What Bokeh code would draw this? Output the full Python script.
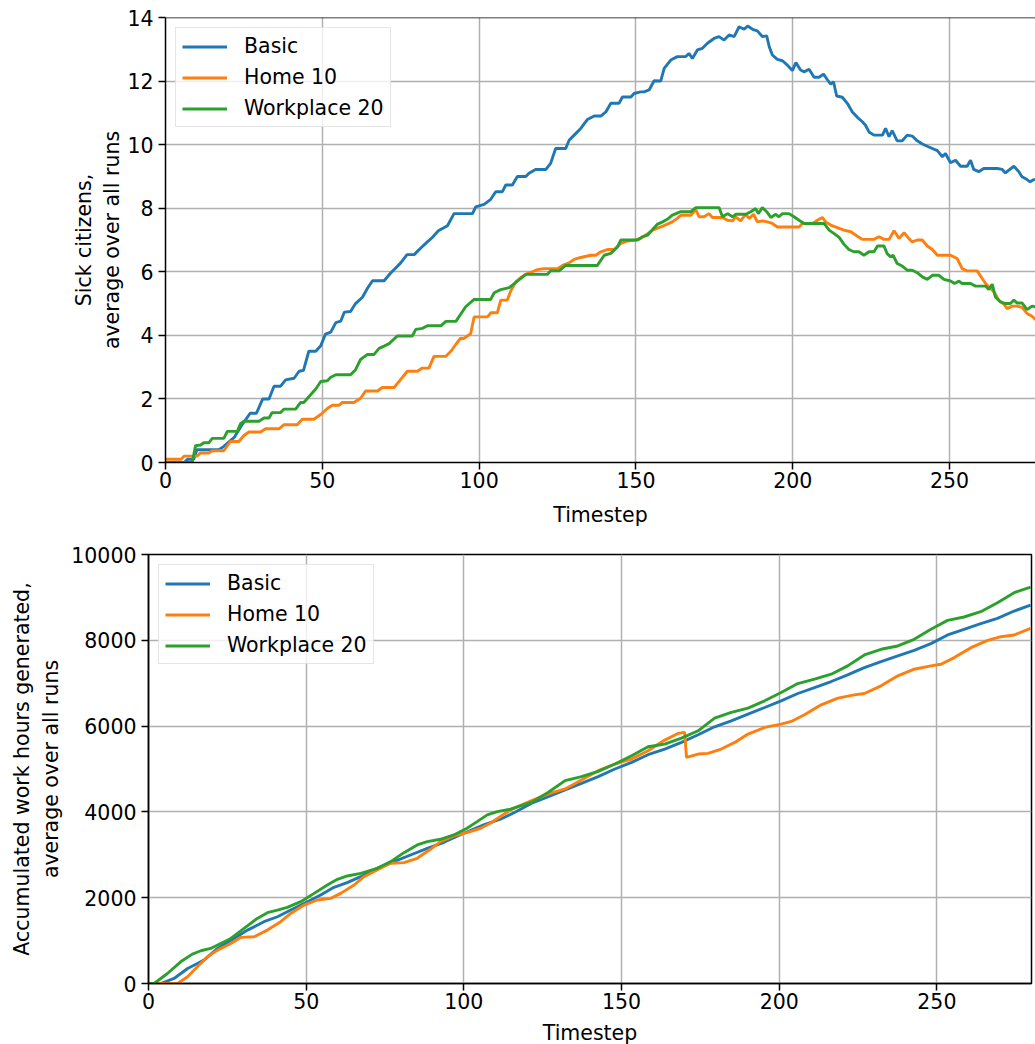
from bokeh.plotting import figure
from bokeh.models import Span, FixedTicker
from bokeh.embed import file_html
from bokeh.resources import INLINE

# ---------------- data: sick citizens (top) ----------------
basic_sick_t = [0, 6, 7, 9, 10, 17, 18.5, 22, 24.5, 27, 29, 31, 33, 34.6, 36.7, 38.3, 41, 42.6, 44, 45.7,
                47.9, 49.5, 51, 52.7, 54.3, 55.9, 57, 59, 60.6, 62.8, 64.4, 66, 69.7, 71.8, 73.4, 75, 77, 79.3,
                81.4, 83.5, 85, 87, 89.9, 92, 97.9, 98.9, 101.6, 103.7, 105.3, 107.4, 108.5, 110.6, 112.2,
                114.9, 115.9, 118, 121.3, 122.8, 124.4, 127.6, 128.7, 130.3, 132.4, 134.5, 136.7, 138.8, 140.4,
                142, 144.6, 145.7, 148.4, 149.4, 151.5, 152.6, 154.2, 155.8, 157.9, 159, 161.1, 163.2, 165.9,
                166.9, 168, 169.6, 171.2, 172.8, 174.9, 176.5, 178.1, 179.7, 181.3, 182.9, 184.5, 185.6, 187.2,
                188.7, 190.3, 191.7, 192.5, 193.5, 195.1, 196.7, 198.3, 199.9, 201, 202.5, 203.6, 205.2, 206.8,
                208.4, 209.8, 211, 212.1, 213, 214, 215.8, 217.4, 219, 220.6, 222.2, 223.2, 224.3, 225.9, 228.6,
                229.6, 230.7, 231.7, 233.3, 234.9, 236.5, 238.1, 239.7, 241.3, 242.9, 244.5, 246.1, 247.7,
                248.7, 250.3, 251.9, 253.5, 255.6, 256.7, 257.7, 259.3, 260.9, 265.2, 266.8, 267.8, 268.9,
                270.5, 272.1, 273.1, 274.7, 275.7, 276.9, 280]
basic_sick_v = [0, 0, 0.1, 0.1, 0.4, 0.4, 0.5, 0.8, 1.2, 1.55, 1.55, 2.0, 2.0, 2.4, 2.4, 2.6, 2.65, 2.87, 2.9, 3.5,
                3.5, 3.67, 4.04, 4.1, 4.4, 4.45, 4.73, 4.75, 5.0, 5.2, 5.48, 5.72, 5.72, 5.96, 6.12, 6.28, 6.54, 6.54,
                6.75, 6.94, 7.07, 7.29, 7.45, 7.83, 7.83, 8.04, 8.12, 8.28, 8.52, 8.52, 8.73, 8.73, 9.0,
                9.0, 9.1, 9.22, 9.22, 9.41, 9.88, 9.88, 10.14, 10.3, 10.51, 10.79, 10.9, 10.9, 11.03,
                11.3, 11.3, 11.5, 11.5, 11.61, 11.66, 11.66, 11.72, 12.01, 12.0, 12.4, 12.66, 12.77, 12.77,
                12.87, 12.71, 12.98, 13.03, 13.19, 13.34, 13.4, 13.29, 13.45, 13.4, 13.71, 13.63, 13.73, 13.63,
                13.58, 13.4, 13.42, 13.08, 12.82, 12.68, 12.64, 12.5, 12.33, 12.58, 12.35, 12.29, 12.37, 12.12,
                12.12, 12.22, 12.05, 11.9, 11.98, 11.53, 11.49, 11.3, 11.03, 10.86, 10.72, 10.61, 10.4, 10.3, 10.3,
                10.51, 10.25, 10.44, 10.12, 10.12, 10.3, 10.27, 10.12, 10.02, 9.95, 9.88, 9.81, 9.62,
                9.72, 9.43, 9.51, 9.32, 9.32, 9.51, 9.22, 9.15, 9.25, 9.25, 9.22, 9.11, 9.2,
                9.32, 9.15, 8.99, 8.9, 8.83, 8.9, 8.9]

home_sick_t = [0, 5, 5.9, 10, 11.2, 13.8, 14.9, 18.6, 20.7, 23.4, 25, 26.6, 30.3, 31.9, 36.2, 37.8, 42, 43.6, 47.3,
               49.5, 51.6, 53.2, 55.3, 56.4, 60.1, 62.2, 63.8, 67.6, 69.1, 72.9, 74.5, 77.1, 80.3, 81.9, 84, 85.6,
               89.4, 91, 92.6, 94.1, 95.1, 97.3, 98.4, 102.7, 103.7, 105.8, 106.9, 109, 110.1, 111.7, 113.3, 115.4,
               117, 118.6, 120.7, 125, 126.6, 128.7, 130.3, 132.4, 135.6, 137.2, 138.8, 140.9, 143, 145.2, 147.3,
               149.9, 151.5, 153.7, 155.3, 157.9, 160, 161.6, 163.2, 164.3, 167.5, 169.1, 170.1, 171.7, 173.3,
               174.4, 177.6, 179.2, 180.8, 181.8, 183.4, 185, 186.1, 187.5, 188.7, 190.3, 191.9, 193.5, 195.1,
               202, 203.1, 206.3, 207.9, 209.4, 210.5, 212.1, 214.2, 216.3, 218.5, 220.6, 222.2, 225.9, 227.5,
               229.1, 230.7, 232.3, 233.9, 235.5, 237, 238.1, 239.7, 241.3, 242.9, 244.5, 246.1, 250.3, 252.4,
               254, 255.6, 258.8, 260.4, 261.5, 262.5, 264.1, 265.7, 267.3, 268.4, 270, 271.5, 273.1, 274.7,
               276.3, 277.4, 280]
home_sick_v = [0.1, 0.1, 0.2, 0.2, 0.3, 0.3, 0.37, 0.37, 0.66, 0.66, 0.85, 0.96, 0.96, 1.06, 1.06, 1.19, 1.19, 1.36, 1.36,
               1.51, 1.7, 1.8, 1.8, 1.89, 1.89, 2.02, 2.25, 2.25, 2.36, 2.36, 2.55, 2.87, 2.87, 2.97, 2.97, 3.34,
               3.34, 3.5, 3.72, 3.91, 3.9, 4.05, 4.58, 4.58, 4.71, 4.71, 5.11, 5.11, 5.4, 5.68, 5.82, 5.95,
               6.0, 6.07, 6.1, 6.1, 6.2, 6.28, 6.39, 6.45, 6.52, 6.52, 6.63, 6.7, 6.7, 6.89, 6.97,
               7.0, 7.05, 7.2, 7.31, 7.41, 7.5, 7.57, 7.68, 7.78, 7.78, 7.96, 7.73, 7.73, 7.83,
               7.71, 7.71, 7.62, 7.6, 7.73, 7.6, 7.81, 7.68, 7.81, 7.57, 7.6, 7.57, 7.52, 7.41,
               7.41, 7.52, 7.52, 7.62, 7.71, 7.57, 7.47, 7.39, 7.31, 7.26, 7.12, 7.02, 7.02, 7.1,
               7.02, 7.02, 7.29, 7.05, 7.23, 7.05, 6.94, 7.0, 7.0, 6.81, 6.7, 6.52, 6.52, 6.42,
               6.1, 6.03, 6.03, 5.79, 5.63, 5.53, 5.37, 5.11, 4.98, 4.84, 4.92, 4.92, 4.88, 4.69,
               4.6, 4.5, 4.4]

work_sick_t = [0, 8.5, 9.6, 11.2, 12.2, 13.8, 14.9, 18.6, 19.7, 22.9, 23.9, 25, 29.8, 31.4, 33, 34, 36.7, 37.8,
               41.5, 43.1, 44.1, 45.7, 47.9, 49.5, 51.6, 52.7, 54.3, 59, 60.6, 62.2, 64.4, 66.5, 68.1, 69.7, 71.3,
               73.9, 78.7, 79.8, 81.9, 83.5, 87.8, 89.4, 92.6, 95.7, 98.4, 103.7, 104.8, 106.9, 109.6, 111.2,
               113.3, 114.9, 121.8, 122.8, 125.5, 127.6, 137.7, 139.9, 142, 144.1, 145.2, 150.5, 152.1, 153.7,
               155.3, 156.9, 158.5, 160, 161.6, 164.3, 167.5, 169.1, 176.5, 177.6, 179.2, 180.8, 181.8, 185,
               186.6, 188.2, 189, 190.3, 191.7, 193, 194.6, 195.6, 196.7, 198.8, 200.4, 202, 203.6, 210, 211.6,
               213.2, 214.8, 216.3, 217.9, 219.5, 221.1, 222.7, 224.3, 225.9, 227, 229.1, 230.1, 231.2, 232,
               233.3, 234.9, 236.5, 238.1, 239.7, 241.3, 242.9, 244.5, 246.6, 248.2, 250.3, 251.6, 253, 254,
               256.7, 258.3, 261.5, 262.5, 263.6, 264.6, 266.2, 267.8, 269.4, 270.5, 271.5, 273.1, 274.7, 276.3,
               277.4, 280]
work_sick_v = [0, 0, 0.53, 0.55, 0.62, 0.62, 0.76, 0.76, 0.98, 0.98, 1.22, 1.3, 1.3, 1.4, 1.4, 1.57, 1.57, 1.68,
               1.68, 1.89, 1.89, 2.07, 2.31, 2.55, 2.57, 2.68, 2.76, 2.76, 2.92, 3.24, 3.4, 3.4, 3.59, 3.66, 3.74,
               3.98, 3.98, 4.19, 4.22, 4.3, 4.3, 4.44, 4.44, 4.9, 5.13, 5.13, 5.34, 5.44, 5.5, 5.63,
               5.79, 5.92, 5.92, 6.03, 6.03, 6.2, 6.2, 6.52, 6.58, 6.78, 7.0, 7.0, 7.1, 7.15,
               7.33, 7.5, 7.57, 7.65, 7.78, 7.89, 7.89, 8.02, 8.02, 7.73, 7.83, 7.73, 7.81, 7.81,
               7.89, 7.99, 7.83, 8.02, 7.89, 7.71, 7.81, 7.73, 7.83, 7.83, 7.73, 7.62, 7.52, 7.52, 7.31,
               7.2, 7.08, 6.87, 6.7, 6.63, 6.63, 6.52, 6.63, 6.63, 6.81, 6.81, 6.57, 6.47, 6.52,
               6.26, 6.18, 6.05, 6.05, 5.97, 5.84, 5.76, 5.89, 5.89, 5.76, 5.71, 5.63, 5.71, 5.63,
               5.63, 5.55, 5.55, 5.44, 5.61, 5.21, 5.05, 5.0, 5.0, 5.11, 5.02, 5.02, 4.81, 4.92,
               4.9, 4.9]

# ---------------- data: accumulated work hours (bottom) ----------------
basic_work_t = [0, 3.9, 8.1, 12.4, 15.5, 17.6, 21.9, 27.1, 31.4, 36.6, 40.9, 45.1, 50.4, 54.6, 58.8, 63, 67.3,
                72.5, 77.8, 83.1, 88.4, 93.7, 100, 106.3, 111.6, 116.2, 121.5, 126.8, 132.1, 137.3, 142.6, 147.9,
                153.2, 158.4, 163.7, 169, 174.3, 179.5, 184.8, 190.1, 195.4, 200.6, 205.9, 211.2, 216.5, 221.7,
                227, 232.3, 237.6, 242.8, 248.1, 253.4, 258.6, 263.9, 269.2, 274.5, 279.7]
basic_work_v = [0, 0, 117, 350, 467, 545, 817, 1050, 1245, 1440, 1556, 1712, 1907, 2062, 2241, 2350, 2490,
                2685, 2840, 2996, 3152, 3292, 3502, 3696, 3829, 3992, 4202, 4357, 4512, 4667, 4822, 5000,
                5155, 5333, 5465, 5620, 5798, 5984, 6124, 6279, 6434, 6589, 6760, 6899, 7039, 7194,
                7364, 7504, 7636, 7767, 7922, 8124, 8256, 8388, 8512, 8682, 8822]

home_work_t = [0, 9.2, 12.4, 15.5, 18.7, 21.9, 26.1, 29.2, 33.5, 37.7, 41.9, 45.1, 49.3, 53.5, 57.8, 60.9, 65.2,
               68.3, 72.5, 76.8, 81, 85.2, 89.4, 92.6, 96.8, 101, 105.3, 108.4, 111.6, 114.8, 121.5, 126.8,
               132.1, 137.3, 142.6, 147.9, 153.2, 158.4, 163.7, 167.9, 170, 170.6, 174.3, 177.4, 181.6, 185.9,
               190.1, 195.4, 200.6, 203.8, 208, 213.3, 218.6, 223.8, 227, 232.3, 237.6, 242.8, 248.1, 251.3,
               255.5, 260.8, 266.1, 270.3, 274.5, 279.7]
home_work_v = [0, 0, 156, 389, 622, 778, 934, 1074, 1089, 1245, 1440, 1634, 1829, 1946, 1984, 2101, 2296,
               2490, 2646, 2802, 2817, 2918, 3128, 3307, 3440, 3518, 3619, 3735, 3891, 4047, 4264, 4419,
               4535, 4744, 4961, 5116, 5233, 5426, 5674, 5829, 5853, 5271, 5349, 5364, 5465, 5620,
               5814, 5969, 6047, 6109, 6264, 6496, 6651, 6729, 6760, 6938, 7171, 7326, 7403, 7442,
               7597, 7829, 8000, 8084, 8124, 8279]

work_work_t = [0, 1.8, 6, 10.2, 13.9, 16.6, 19.7, 22.9, 26.1, 30.3, 34.5, 37.7, 40.9, 44, 48.3, 52.5, 56.7, 59.9,
               63, 67.3, 72.5, 76.8, 81, 85.2, 88.4, 92.6, 96.8, 101, 104.2, 107.4, 110.6, 114.8, 117.4, 121.5,
               126.8, 132.1, 137.3, 142.6, 147.9, 153.2, 158.4, 163.7, 169, 174.3, 179.5, 184.8, 190.1, 195.4,
               200.6, 205.9, 211.2, 216.5, 221.7, 227, 232.3, 237.6, 242.8, 248.1, 253.4, 258.6, 263.9, 269.2,
               274.5, 279.7]
work_work_v = [0, 0, 233, 506, 685, 763, 817, 934, 1050, 1284, 1517, 1650, 1712, 1774, 1907, 2101, 2296, 2428,
               2506, 2568, 2685, 2840, 3050, 3230, 3307, 3362, 3463, 3619, 3774, 3930, 4008, 4062, 4130, 4225,
               4457, 4729, 4822, 4946, 5116, 5310, 5519, 5581, 5721, 5891, 6186, 6318, 6419, 6589,
               6783, 6992, 7093, 7209, 7403, 7659, 7791, 7868, 8023, 8256, 8465, 8543, 8667, 8876,
               9109, 9240]

series_names = ["Basic", "Home 10", "Workplace 20"]
series_colors = ["#1f77b4", "#ff7f0e", "#2ca02c"]
x_ticks = [0, 50, 100, 150, 200, 250]
top_y_ticks = [0, 2, 4, 6, 8, 10, 12, 14]
bottom_y_ticks = [0, 2000, 4000, 6000, 8000, 10000]

FONT = "DejaVu Sans"
FS = "20.5px"


def style(p, yticks, ylabel, xlabel_standoff, ylabel_standoff):
    p.xaxis.axis_label = "Timestep"
    p.yaxis.axis_label = ylabel
    p.xaxis.ticker = FixedTicker(ticks=x_ticks)
    p.yaxis.ticker = FixedTicker(ticks=yticks)
    for ax in (p.xaxis[0], p.yaxis[0]):
        ax.axis_label_text_font = FONT
        ax.axis_label_text_font_size = FS
        ax.axis_label_text_font_style = "normal"
        ax.axis_label_text_color = "black"
        ax.major_label_text_font = FONT
        ax.major_label_text_font_size = FS
        ax.major_label_text_color = "black"
        ax.axis_line_width = 1.5
        ax.axis_line_color = "black"
        ax.major_tick_line_width = 1.5
        ax.major_tick_line_color = "black"
        ax.major_tick_out = 7
        ax.major_tick_in = 0
        ax.minor_tick_line_color = None
    p.xaxis.major_label_standoff = 2
    p.yaxis.major_label_standoff = 5
    p.xaxis.axis_label_standoff = xlabel_standoff
    p.yaxis.axis_label_standoff = ylabel_standoff
    for g in (p.xgrid[0], p.ygrid[0]):
        g.grid_line_color = "#b0b0b0"
        g.grid_line_width = 1.5
    p.background_fill_color = "white"
    p.border_fill_color = "white"


# ---------------- top figure ----------------
p1 = figure(frame_width=870, frame_height=445, min_border_left=165, min_border_right=0,
            min_border_top=17, min_border_bottom=68, x_range=(0, 277.4), y_range=(0, 14),
            output_backend="svg", toolbar_location=None)
p1.outline_line_color = None
style(p1, top_y_ticks, "Sick citizens,\naverage over all runs", 12, 0)
for t, v, name, col in zip([basic_sick_t, home_sick_t, work_sick_t],
                           [basic_sick_v, home_sick_v, work_sick_v], series_names, series_colors):
    p1.line(t, v, line_color=col, line_width=2.9, legend_label=name)
p1.add_layout(Span(location=14, dimension="width", line_color="black", line_width=1.5))

# ---------------- bottom figure ----------------
p2 = figure(frame_width=883, frame_height=429, min_border_left=148, min_border_right=4,
            min_border_top=24, min_border_bottom=61, x_range=(0, 280), y_range=(0, 10000),
            output_backend="svg", toolbar_location=None)
p2.outline_line_color = "black"
p2.outline_line_width = 1.5
p2.outline_line_alpha = 1
style(p2, bottom_y_ticks, "Accumulated work hours generated,\naverage over all runs", 9, 5)
for t, v, name, col in zip([basic_work_t, home_work_t, work_work_t],
                           [basic_work_v, home_work_v, work_work_v], series_names, series_colors):
    p2.line(t, v, line_color=col, line_width=2.9, legend_label=name)

for p in (p1, p2):
    lg = p.legend[0]
    lg.location = "top_left"
    lg.margin = 10
    lg.padding = 6
    lg.spacing = 7
    lg.glyph_width = 45
    lg.glyph_height = 23
    lg.label_height = 23
    lg.label_standoff = 17
    lg.label_text_font = FONT
    lg.label_text_font_size = FS
    lg.label_text_color = "black"
    lg.border_line_color = "#cccccc"
    lg.border_line_width = 1.2
    lg.background_fill_alpha = 0.8

# two separate roots so the frames are not aligned to each other
open("out.html", "w").write(file_html([p1, p2], INLINE))
